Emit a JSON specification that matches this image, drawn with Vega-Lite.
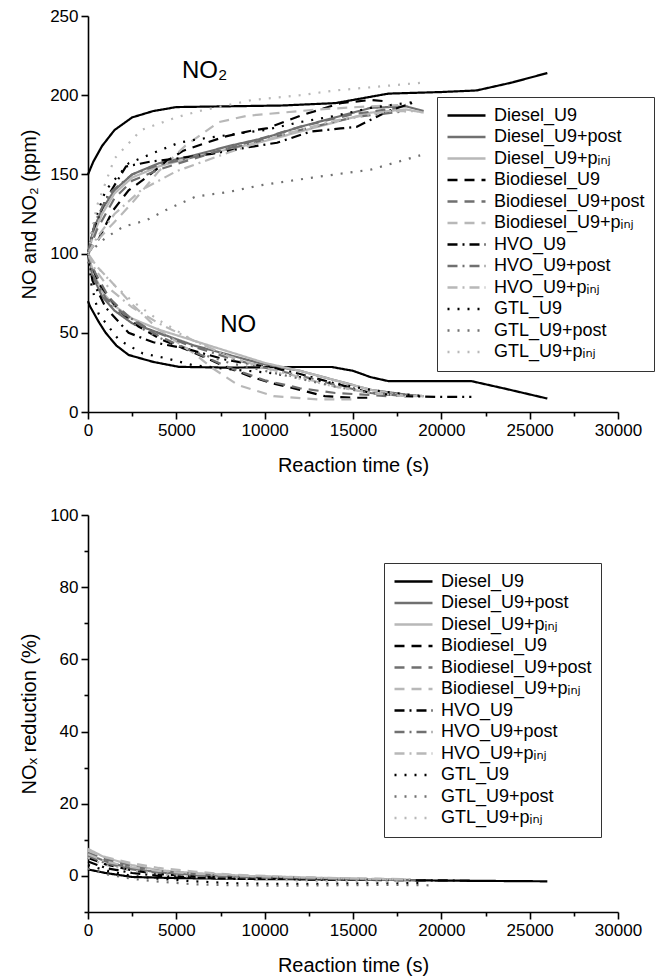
{
"$schema": "https://vega.github.io/schema/vega-lite/v6.json",
"padding": {"top": 7, "left": 19, "right": 5, "bottom": 5},
"background": "white",
"spacing": 31,
"resolve": {"scale": {"color": "independent", "strokeDash": "independent"}},
"datasets": {
"no": [
{"s":"Diesel_U9","g":"NO2","t":0,"v":150},{"s":"Diesel_U9","g":"NO2","t":300,"v":158},{"s":"Diesel_U9","g":"NO2","t":800,"v":168},{"s":"Diesel_U9","g":"NO2","t":1500,"v":178},{"s":"Diesel_U9","g":"NO2","t":2500,"v":186},{"s":"Diesel_U9","g":"NO2","t":3700,"v":190},{"s":"Diesel_U9","g":"NO2","t":5000,"v":192.5},{"s":"Diesel_U9","g":"NO2","t":8000,"v":193},{"s":"Diesel_U9","g":"NO2","t":11000,"v":193.5},{"s":"Diesel_U9","g":"NO2","t":14000,"v":195},{"s":"Diesel_U9","g":"NO2","t":15500,"v":198},{"s":"Diesel_U9","g":"NO2","t":17000,"v":201},{"s":"Diesel_U9","g":"NO2","t":20000,"v":202},{"s":"Diesel_U9","g":"NO2","t":22000,"v":203},{"s":"Diesel_U9","g":"NO2","t":24000,"v":208},{"s":"Diesel_U9","g":"NO2","t":26000,"v":214},
{"s":"Diesel_U9+post","g":"NO2","t":0,"v":100},{"s":"Diesel_U9+post","g":"NO2","t":300,"v":115},{"s":"Diesel_U9+post","g":"NO2","t":800,"v":128},{"s":"Diesel_U9+post","g":"NO2","t":1500,"v":140},{"s":"Diesel_U9+post","g":"NO2","t":2500,"v":150},{"s":"Diesel_U9+post","g":"NO2","t":4000,"v":157},{"s":"Diesel_U9+post","g":"NO2","t":6000,"v":162},{"s":"Diesel_U9+post","g":"NO2","t":8000,"v":168},{"s":"Diesel_U9+post","g":"NO2","t":10000,"v":173},{"s":"Diesel_U9+post","g":"NO2","t":12000,"v":180},{"s":"Diesel_U9+post","g":"NO2","t":14000,"v":186},{"s":"Diesel_U9+post","g":"NO2","t":16000,"v":192},{"s":"Diesel_U9+post","g":"NO2","t":18000,"v":193},{"s":"Diesel_U9+post","g":"NO2","t":19000,"v":190},
{"s":"Diesel_U9+pᵢₙⱼ","g":"NO2","t":0,"v":100},{"s":"Diesel_U9+pᵢₙⱼ","g":"NO2","t":300,"v":112},{"s":"Diesel_U9+pᵢₙⱼ","g":"NO2","t":800,"v":125},{"s":"Diesel_U9+pᵢₙⱼ","g":"NO2","t":1500,"v":138},{"s":"Diesel_U9+pᵢₙⱼ","g":"NO2","t":2500,"v":148},{"s":"Diesel_U9+pᵢₙⱼ","g":"NO2","t":4000,"v":155},{"s":"Diesel_U9+pᵢₙⱼ","g":"NO2","t":6000,"v":161},{"s":"Diesel_U9+pᵢₙⱼ","g":"NO2","t":8000,"v":166},{"s":"Diesel_U9+pᵢₙⱼ","g":"NO2","t":10000,"v":171},{"s":"Diesel_U9+pᵢₙⱼ","g":"NO2","t":12000,"v":177},{"s":"Diesel_U9+pᵢₙⱼ","g":"NO2","t":14000,"v":183},{"s":"Diesel_U9+pᵢₙⱼ","g":"NO2","t":16000,"v":189},{"s":"Diesel_U9+pᵢₙⱼ","g":"NO2","t":18000,"v":191},{"s":"Diesel_U9+pᵢₙⱼ","g":"NO2","t":19000,"v":189},
{"s":"Biodiesel_U9","g":"NO2","t":0,"v":100},{"s":"Biodiesel_U9","g":"NO2","t":300,"v":105},{"s":"Biodiesel_U9","g":"NO2","t":600,"v":109},{"s":"Biodiesel_U9","g":"NO2","t":1400,"v":127},{"s":"Biodiesel_U9","g":"NO2","t":2300,"v":140},{"s":"Biodiesel_U9","g":"NO2","t":3300,"v":148},{"s":"Biodiesel_U9","g":"NO2","t":4400,"v":158},{"s":"Biodiesel_U9","g":"NO2","t":5400,"v":165},{"s":"Biodiesel_U9","g":"NO2","t":6700,"v":170},{"s":"Biodiesel_U9","g":"NO2","t":7800,"v":174},{"s":"Biodiesel_U9","g":"NO2","t":9400,"v":178},{"s":"Biodiesel_U9","g":"NO2","t":10100,"v":179},{"s":"Biodiesel_U9","g":"NO2","t":12000,"v":187},{"s":"Biodiesel_U9","g":"NO2","t":14300,"v":195},{"s":"Biodiesel_U9","g":"NO2","t":16000,"v":197},{"s":"Biodiesel_U9","g":"NO2","t":17000,"v":196},
{"s":"Biodiesel_U9+post","g":"NO2","t":0,"v":100},{"s":"Biodiesel_U9+post","g":"NO2","t":500,"v":115},{"s":"Biodiesel_U9+post","g":"NO2","t":1500,"v":135},{"s":"Biodiesel_U9+post","g":"NO2","t":2500,"v":146},{"s":"Biodiesel_U9+post","g":"NO2","t":4000,"v":153},{"s":"Biodiesel_U9+post","g":"NO2","t":6000,"v":160},{"s":"Biodiesel_U9+post","g":"NO2","t":9000,"v":170},{"s":"Biodiesel_U9+post","g":"NO2","t":12000,"v":180},{"s":"Biodiesel_U9+post","g":"NO2","t":15000,"v":188},{"s":"Biodiesel_U9+post","g":"NO2","t":17500,"v":192},
{"s":"Biodiesel_U9+pᵢₙⱼ","g":"NO2","t":0,"v":100},{"s":"Biodiesel_U9+pᵢₙⱼ","g":"NO2","t":500,"v":108},{"s":"Biodiesel_U9+pᵢₙⱼ","g":"NO2","t":1500,"v":120},{"s":"Biodiesel_U9+pᵢₙⱼ","g":"NO2","t":2500,"v":132},{"s":"Biodiesel_U9+pᵢₙⱼ","g":"NO2","t":4000,"v":152},{"s":"Biodiesel_U9+pᵢₙⱼ","g":"NO2","t":5500,"v":168},{"s":"Biodiesel_U9+pᵢₙⱼ","g":"NO2","t":7400,"v":183},{"s":"Biodiesel_U9+pᵢₙⱼ","g":"NO2","t":9000,"v":187},{"s":"Biodiesel_U9+pᵢₙⱼ","g":"NO2","t":11000,"v":189},{"s":"Biodiesel_U9+pᵢₙⱼ","g":"NO2","t":13000,"v":191},{"s":"Biodiesel_U9+pᵢₙⱼ","g":"NO2","t":16000,"v":193},{"s":"Biodiesel_U9+pᵢₙⱼ","g":"NO2","t":18000,"v":194},
{"s":"HVO_U9","g":"NO2","t":0,"v":100},{"s":"HVO_U9","g":"NO2","t":300,"v":115},{"s":"HVO_U9","g":"NO2","t":1000,"v":134},{"s":"HVO_U9","g":"NO2","t":2150,"v":155},{"s":"HVO_U9","g":"NO2","t":3500,"v":158},{"s":"HVO_U9","g":"NO2","t":5000,"v":160},{"s":"HVO_U9","g":"NO2","t":7000,"v":163},{"s":"HVO_U9","g":"NO2","t":9000,"v":167},{"s":"HVO_U9","g":"NO2","t":10700,"v":170},{"s":"HVO_U9","g":"NO2","t":12600,"v":177},{"s":"HVO_U9","g":"NO2","t":14300,"v":179},{"s":"HVO_U9","g":"NO2","t":15200,"v":180},{"s":"HVO_U9","g":"NO2","t":17000,"v":190},{"s":"HVO_U9","g":"NO2","t":18600,"v":196},
{"s":"HVO_U9+post","g":"NO2","t":0,"v":100},{"s":"HVO_U9+post","g":"NO2","t":400,"v":120},{"s":"HVO_U9+post","g":"NO2","t":1200,"v":138},{"s":"HVO_U9+post","g":"NO2","t":2500,"v":150},{"s":"HVO_U9+post","g":"NO2","t":4000,"v":156},{"s":"HVO_U9+post","g":"NO2","t":6000,"v":161},{"s":"HVO_U9+post","g":"NO2","t":9000,"v":169},{"s":"HVO_U9+post","g":"NO2","t":12000,"v":178},{"s":"HVO_U9+post","g":"NO2","t":15000,"v":186},{"s":"HVO_U9+post","g":"NO2","t":18000,"v":190},
{"s":"HVO_U9+pᵢₙⱼ","g":"NO2","t":0,"v":100},{"s":"HVO_U9+pᵢₙⱼ","g":"NO2","t":500,"v":110},{"s":"HVO_U9+pᵢₙⱼ","g":"NO2","t":1500,"v":125},{"s":"HVO_U9+pᵢₙⱼ","g":"NO2","t":3000,"v":140},{"s":"HVO_U9+pᵢₙⱼ","g":"NO2","t":5000,"v":152},{"s":"HVO_U9+pᵢₙⱼ","g":"NO2","t":8000,"v":164},{"s":"HVO_U9+pᵢₙⱼ","g":"NO2","t":11000,"v":175},{"s":"HVO_U9+pᵢₙⱼ","g":"NO2","t":14000,"v":184},{"s":"HVO_U9+pᵢₙⱼ","g":"NO2","t":17000,"v":190},{"s":"HVO_U9+pᵢₙⱼ","g":"NO2","t":18500,"v":190},
{"s":"GTL_U9","g":"NO2","t":0,"v":100},{"s":"GTL_U9","g":"NO2","t":300,"v":118},{"s":"GTL_U9","g":"NO2","t":1000,"v":140},{"s":"GTL_U9","g":"NO2","t":2300,"v":157},{"s":"GTL_U9","g":"NO2","t":3700,"v":163.5},{"s":"GTL_U9","g":"NO2","t":5150,"v":170},{"s":"GTL_U9","g":"NO2","t":6100,"v":172},{"s":"GTL_U9","g":"NO2","t":8000,"v":175},{"s":"GTL_U9","g":"NO2","t":10000,"v":178},{"s":"GTL_U9","g":"NO2","t":12000,"v":183},{"s":"GTL_U9","g":"NO2","t":14000,"v":187},{"s":"GTL_U9","g":"NO2","t":16000,"v":192},{"s":"GTL_U9","g":"NO2","t":18600,"v":196},
{"s":"GTL_U9+post","g":"NO2","t":0,"v":100},{"s":"GTL_U9+post","g":"NO2","t":500,"v":105},{"s":"GTL_U9+post","g":"NO2","t":1000,"v":110},{"s":"GTL_U9+post","g":"NO2","t":2000,"v":117},{"s":"GTL_U9+post","g":"NO2","t":3300,"v":121},{"s":"GTL_U9+post","g":"NO2","t":4500,"v":128},{"s":"GTL_U9+post","g":"NO2","t":6100,"v":136},{"s":"GTL_U9+post","g":"NO2","t":8000,"v":139},{"s":"GTL_U9+post","g":"NO2","t":9700,"v":143},{"s":"GTL_U9+post","g":"NO2","t":12700,"v":148},{"s":"GTL_U9+post","g":"NO2","t":16000,"v":153},{"s":"GTL_U9+post","g":"NO2","t":18800,"v":162},
{"s":"GTL_U9+pᵢₙⱼ","g":"NO2","t":0,"v":100},{"s":"GTL_U9+pᵢₙⱼ","g":"NO2","t":500,"v":130},{"s":"GTL_U9+pᵢₙⱼ","g":"NO2","t":1500,"v":160},{"s":"GTL_U9+pᵢₙⱼ","g":"NO2","t":3000,"v":178},{"s":"GTL_U9+pᵢₙⱼ","g":"NO2","t":5000,"v":186},{"s":"GTL_U9+pᵢₙⱼ","g":"NO2","t":6300,"v":190},{"s":"GTL_U9+pᵢₙⱼ","g":"NO2","t":9300,"v":197},{"s":"GTL_U9+pᵢₙⱼ","g":"NO2","t":12000,"v":200},{"s":"GTL_U9+pᵢₙⱼ","g":"NO2","t":14000,"v":203},{"s":"GTL_U9+pᵢₙⱼ","g":"NO2","t":17000,"v":206},{"s":"GTL_U9+pᵢₙⱼ","g":"NO2","t":19000,"v":208},
{"s":"Diesel_U9","g":"NO","t":0,"v":70},{"s":"Diesel_U9","g":"NO","t":100,"v":67},{"s":"Diesel_U9","g":"NO","t":600,"v":57},{"s":"Diesel_U9","g":"NO","t":1000,"v":50},{"s":"Diesel_U9","g":"NO","t":1600,"v":42},{"s":"Diesel_U9","g":"NO","t":2300,"v":36},{"s":"Diesel_U9","g":"NO","t":3700,"v":31.6},{"s":"Diesel_U9","g":"NO","t":5150,"v":28.5},{"s":"Diesel_U9","g":"NO","t":8000,"v":28},{"s":"Diesel_U9","g":"NO","t":11000,"v":28.4},{"s":"Diesel_U9","g":"NO","t":13800,"v":28.4},{"s":"Diesel_U9","g":"NO","t":15000,"v":26},{"s":"Diesel_U9","g":"NO","t":16000,"v":22},{"s":"Diesel_U9","g":"NO","t":17000,"v":19.5},{"s":"Diesel_U9","g":"NO","t":21700,"v":19.5},{"s":"Diesel_U9","g":"NO","t":23500,"v":15},{"s":"Diesel_U9","g":"NO","t":26000,"v":8.5},
{"s":"Diesel_U9+post","g":"NO","t":0,"v":100},{"s":"Diesel_U9+post","g":"NO","t":300,"v":85},{"s":"Diesel_U9+post","g":"NO","t":800,"v":73},{"s":"Diesel_U9+post","g":"NO","t":1500,"v":64},{"s":"Diesel_U9+post","g":"NO","t":2500,"v":56},{"s":"Diesel_U9+post","g":"NO","t":4000,"v":50},{"s":"Diesel_U9+post","g":"NO","t":6000,"v":42},{"s":"Diesel_U9+post","g":"NO","t":8000,"v":36},{"s":"Diesel_U9+post","g":"NO","t":10000,"v":30},{"s":"Diesel_U9+post","g":"NO","t":12000,"v":26},{"s":"Diesel_U9+post","g":"NO","t":14000,"v":20},{"s":"Diesel_U9+post","g":"NO","t":16000,"v":14},{"s":"Diesel_U9+post","g":"NO","t":18000,"v":11},{"s":"Diesel_U9+post","g":"NO","t":19000,"v":10},
{"s":"Diesel_U9+pᵢₙⱼ","g":"NO","t":0,"v":100},{"s":"Diesel_U9+pᵢₙⱼ","g":"NO","t":300,"v":88},{"s":"Diesel_U9+pᵢₙⱼ","g":"NO","t":800,"v":76},{"s":"Diesel_U9+pᵢₙⱼ","g":"NO","t":1500,"v":67},{"s":"Diesel_U9+pᵢₙⱼ","g":"NO","t":2500,"v":59},{"s":"Diesel_U9+pᵢₙⱼ","g":"NO","t":4000,"v":52},{"s":"Diesel_U9+pᵢₙⱼ","g":"NO","t":6000,"v":45},{"s":"Diesel_U9+pᵢₙⱼ","g":"NO","t":8000,"v":38},{"s":"Diesel_U9+pᵢₙⱼ","g":"NO","t":10000,"v":31},{"s":"Diesel_U9+pᵢₙⱼ","g":"NO","t":12000,"v":26},{"s":"Diesel_U9+pᵢₙⱼ","g":"NO","t":14000,"v":20},{"s":"Diesel_U9+pᵢₙⱼ","g":"NO","t":16000,"v":14},{"s":"Diesel_U9+pᵢₙⱼ","g":"NO","t":18000,"v":10},{"s":"Diesel_U9+pᵢₙⱼ","g":"NO","t":19000,"v":10},
{"s":"Biodiesel_U9","g":"NO","t":0,"v":100},{"s":"Biodiesel_U9","g":"NO","t":300,"v":90},{"s":"Biodiesel_U9","g":"NO","t":620,"v":81},{"s":"Biodiesel_U9","g":"NO","t":1750,"v":64},{"s":"Biodiesel_U9","g":"NO","t":2860,"v":54},{"s":"Biodiesel_U9","g":"NO","t":4200,"v":45.5},{"s":"Biodiesel_U9","g":"NO","t":5900,"v":38},{"s":"Biodiesel_U9","g":"NO","t":7900,"v":28},{"s":"Biodiesel_U9","g":"NO","t":9300,"v":22},{"s":"Biodiesel_U9","g":"NO","t":10500,"v":18},{"s":"Biodiesel_U9","g":"NO","t":12000,"v":14},{"s":"Biodiesel_U9","g":"NO","t":13400,"v":10},{"s":"Biodiesel_U9","g":"NO","t":15000,"v":9},{"s":"Biodiesel_U9","g":"NO","t":16000,"v":9},
{"s":"Biodiesel_U9+post","g":"NO","t":0,"v":100},{"s":"Biodiesel_U9+post","g":"NO","t":400,"v":88},{"s":"Biodiesel_U9+post","g":"NO","t":1200,"v":72},{"s":"Biodiesel_U9+post","g":"NO","t":2500,"v":58},{"s":"Biodiesel_U9+post","g":"NO","t":4000,"v":48},{"s":"Biodiesel_U9+post","g":"NO","t":6000,"v":38},{"s":"Biodiesel_U9+post","g":"NO","t":8000,"v":28},{"s":"Biodiesel_U9+post","g":"NO","t":10000,"v":20},{"s":"Biodiesel_U9+post","g":"NO","t":12000,"v":15},{"s":"Biodiesel_U9+post","g":"NO","t":14000,"v":12},{"s":"Biodiesel_U9+post","g":"NO","t":17000,"v":10},
{"s":"Biodiesel_U9+pᵢₙⱼ","g":"NO","t":0,"v":100},{"s":"Biodiesel_U9+pᵢₙⱼ","g":"NO","t":500,"v":92},{"s":"Biodiesel_U9+pᵢₙⱼ","g":"NO","t":1500,"v":80},{"s":"Biodiesel_U9+pᵢₙⱼ","g":"NO","t":2500,"v":68},{"s":"Biodiesel_U9+pᵢₙⱼ","g":"NO","t":4000,"v":52},{"s":"Biodiesel_U9+pᵢₙⱼ","g":"NO","t":6000,"v":37},{"s":"Biodiesel_U9+pᵢₙⱼ","g":"NO","t":7000,"v":28},{"s":"Biodiesel_U9+pᵢₙⱼ","g":"NO","t":8500,"v":17},{"s":"Biodiesel_U9+pᵢₙⱼ","g":"NO","t":10500,"v":10},{"s":"Biodiesel_U9+pᵢₙⱼ","g":"NO","t":13000,"v":8},{"s":"Biodiesel_U9+pᵢₙⱼ","g":"NO","t":15000,"v":8},
{"s":"HVO_U9","g":"NO","t":0,"v":100},{"s":"HVO_U9","g":"NO","t":250,"v":83},{"s":"HVO_U9","g":"NO","t":1000,"v":66},{"s":"HVO_U9","g":"NO","t":2300,"v":50},{"s":"HVO_U9","g":"NO","t":3700,"v":44},{"s":"HVO_U9","g":"NO","t":5550,"v":40},{"s":"HVO_U9","g":"NO","t":7800,"v":33},{"s":"HVO_U9","g":"NO","t":10450,"v":28},{"s":"HVO_U9","g":"NO","t":12000,"v":24},{"s":"HVO_U9","g":"NO","t":14000,"v":18},{"s":"HVO_U9","g":"NO","t":16000,"v":12},{"s":"HVO_U9","g":"NO","t":18000,"v":10},{"s":"HVO_U9","g":"NO","t":20000,"v":9.5},{"s":"HVO_U9","g":"NO","t":21700,"v":9.5},
{"s":"HVO_U9+post","g":"NO","t":0,"v":100},{"s":"HVO_U9+post","g":"NO","t":300,"v":86},{"s":"HVO_U9+post","g":"NO","t":1000,"v":72},{"s":"HVO_U9+post","g":"NO","t":2000,"v":62},{"s":"HVO_U9+post","g":"NO","t":3500,"v":52},{"s":"HVO_U9+post","g":"NO","t":5500,"v":43},{"s":"HVO_U9+post","g":"NO","t":8000,"v":34},{"s":"HVO_U9+post","g":"NO","t":10000,"v":28},{"s":"HVO_U9+post","g":"NO","t":12000,"v":23},{"s":"HVO_U9+post","g":"NO","t":14000,"v":17},{"s":"HVO_U9+post","g":"NO","t":16000,"v":12},{"s":"HVO_U9+post","g":"NO","t":18000,"v":10},
{"s":"HVO_U9+pᵢₙⱼ","g":"NO","t":0,"v":100},{"s":"HVO_U9+pᵢₙⱼ","g":"NO","t":400,"v":90},{"s":"HVO_U9+pᵢₙⱼ","g":"NO","t":1200,"v":78},{"s":"HVO_U9+pᵢₙⱼ","g":"NO","t":2500,"v":66},{"s":"HVO_U9+pᵢₙⱼ","g":"NO","t":4000,"v":56},{"s":"HVO_U9+pᵢₙⱼ","g":"NO","t":6000,"v":45},{"s":"HVO_U9+pᵢₙⱼ","g":"NO","t":8000,"v":35},{"s":"HVO_U9+pᵢₙⱼ","g":"NO","t":10000,"v":28},{"s":"HVO_U9+pᵢₙⱼ","g":"NO","t":12000,"v":22},{"s":"HVO_U9+pᵢₙⱼ","g":"NO","t":14000,"v":16},{"s":"HVO_U9+pᵢₙⱼ","g":"NO","t":16000,"v":12},{"s":"HVO_U9+pᵢₙⱼ","g":"NO","t":18000,"v":10},
{"s":"GTL_U9","g":"NO","t":0,"v":100},{"s":"GTL_U9","g":"NO","t":200,"v":80},{"s":"GTL_U9","g":"NO","t":600,"v":62},{"s":"GTL_U9","g":"NO","t":1750,"v":45.5},{"s":"GTL_U9","g":"NO","t":3100,"v":37},{"s":"GTL_U9","g":"NO","t":4400,"v":34},{"s":"GTL_U9","g":"NO","t":5900,"v":29.7},{"s":"GTL_U9","g":"NO","t":8000,"v":27},{"s":"GTL_U9","g":"NO","t":10000,"v":25},{"s":"GTL_U9","g":"NO","t":12000,"v":22},{"s":"GTL_U9","g":"NO","t":14000,"v":18},{"s":"GTL_U9","g":"NO","t":16000,"v":14},{"s":"GTL_U9","g":"NO","t":18000,"v":11},{"s":"GTL_U9","g":"NO","t":19000,"v":10},
{"s":"GTL_U9+post","g":"NO","t":0,"v":95},{"s":"GTL_U9+post","g":"NO","t":400,"v":82},{"s":"GTL_U9+post","g":"NO","t":1200,"v":68},{"s":"GTL_U9+post","g":"NO","t":2500,"v":56},{"s":"GTL_U9+post","g":"NO","t":4000,"v":47},{"s":"GTL_U9+post","g":"NO","t":6000,"v":38},{"s":"GTL_U9+post","g":"NO","t":8000,"v":31},{"s":"GTL_U9+post","g":"NO","t":10000,"v":26},{"s":"GTL_U9+post","g":"NO","t":12000,"v":21},{"s":"GTL_U9+post","g":"NO","t":14000,"v":16},{"s":"GTL_U9+post","g":"NO","t":16000,"v":12},{"s":"GTL_U9+post","g":"NO","t":18000,"v":11},
{"s":"GTL_U9+pᵢₙⱼ","g":"NO","t":0,"v":100},{"s":"GTL_U9+pᵢₙⱼ","g":"NO","t":300,"v":95},{"s":"GTL_U9+pᵢₙⱼ","g":"NO","t":800,"v":88},{"s":"GTL_U9+pᵢₙⱼ","g":"NO","t":1500,"v":80},{"s":"GTL_U9+pᵢₙⱼ","g":"NO","t":2500,"v":70},{"s":"GTL_U9+pᵢₙⱼ","g":"NO","t":4000,"v":58},{"s":"GTL_U9+pᵢₙⱼ","g":"NO","t":6000,"v":45},{"s":"GTL_U9+pᵢₙⱼ","g":"NO","t":8000,"v":35},{"s":"GTL_U9+pᵢₙⱼ","g":"NO","t":10000,"v":27},{"s":"GTL_U9+pᵢₙⱼ","g":"NO","t":12000,"v":21},{"s":"GTL_U9+pᵢₙⱼ","g":"NO","t":14000,"v":16},{"s":"GTL_U9+pᵢₙⱼ","g":"NO","t":16000,"v":12},{"s":"GTL_U9+pᵢₙⱼ","g":"NO","t":18000,"v":10}
],
"red": [
{"s":"Diesel_U9","t":0,"v":1.8},{"s":"Diesel_U9","t":1000,"v":0.8},{"s":"Diesel_U9","t":2500,"v":-0.3},{"s":"Diesel_U9","t":5000,"v":-0.6},{"s":"Diesel_U9","t":10000,"v":-0.9},{"s":"Diesel_U9","t":15000,"v":-1.0},{"s":"Diesel_U9","t":20000,"v":-1.3},{"s":"Diesel_U9","t":26000,"v":-1.5},
{"s":"Diesel_U9+post","t":0,"v":6},{"s":"Diesel_U9+post","t":1000,"v":4},{"s":"Diesel_U9+post","t":2500,"v":2},{"s":"Diesel_U9+post","t":4000,"v":1},{"s":"Diesel_U9+post","t":6000,"v":0.3},{"s":"Diesel_U9+post","t":9000,"v":-0.3},{"s":"Diesel_U9+post","t":12000,"v":-0.6},{"s":"Diesel_U9+post","t":15000,"v":-0.9},{"s":"Diesel_U9+post","t":18000,"v":-1.1},{"s":"Diesel_U9+post","t":19000,"v":-1.2},
{"s":"Diesel_U9+pᵢₙⱼ","t":0,"v":7.5},{"s":"Diesel_U9+pᵢₙⱼ","t":1000,"v":5},{"s":"Diesel_U9+pᵢₙⱼ","t":2500,"v":3},{"s":"Diesel_U9+pᵢₙⱼ","t":4000,"v":1.6},{"s":"Diesel_U9+pᵢₙⱼ","t":6000,"v":0.8},{"s":"Diesel_U9+pᵢₙⱼ","t":9000,"v":0},{"s":"Diesel_U9+pᵢₙⱼ","t":12000,"v":-0.4},{"s":"Diesel_U9+pᵢₙⱼ","t":15000,"v":-0.8},{"s":"Diesel_U9+pᵢₙⱼ","t":18000,"v":-1.0},
{"s":"Biodiesel_U9","t":0,"v":5},{"s":"Biodiesel_U9","t":1000,"v":3.2},{"s":"Biodiesel_U9","t":2500,"v":1.5},{"s":"Biodiesel_U9","t":4000,"v":0.5},{"s":"Biodiesel_U9","t":6000,"v":-0.2},{"s":"Biodiesel_U9","t":9000,"v":-0.6},{"s":"Biodiesel_U9","t":12000,"v":-0.8},{"s":"Biodiesel_U9","t":15000,"v":-1},{"s":"Biodiesel_U9","t":16000,"v":-1},
{"s":"Biodiesel_U9+post","t":0,"v":6.5},{"s":"Biodiesel_U9+post","t":1000,"v":4.5},{"s":"Biodiesel_U9+post","t":2500,"v":2.6},{"s":"Biodiesel_U9+post","t":4000,"v":1.4},{"s":"Biodiesel_U9+post","t":6000,"v":0.6},{"s":"Biodiesel_U9+post","t":9000,"v":-0.1},{"s":"Biodiesel_U9+post","t":12000,"v":-0.5},{"s":"Biodiesel_U9+post","t":15000,"v":-0.8},{"s":"Biodiesel_U9+post","t":17500,"v":-1},
{"s":"Biodiesel_U9+pᵢₙⱼ","t":0,"v":7},{"s":"Biodiesel_U9+pᵢₙⱼ","t":1000,"v":5.2},{"s":"Biodiesel_U9+pᵢₙⱼ","t":2500,"v":3.5},{"s":"Biodiesel_U9+pᵢₙⱼ","t":4000,"v":2.2},{"s":"Biodiesel_U9+pᵢₙⱼ","t":6000,"v":1.2},{"s":"Biodiesel_U9+pᵢₙⱼ","t":8000,"v":0.4},{"s":"Biodiesel_U9+pᵢₙⱼ","t":11000,"v":-0.2},{"s":"Biodiesel_U9+pᵢₙⱼ","t":14000,"v":-0.6},{"s":"Biodiesel_U9+pᵢₙⱼ","t":18000,"v":-0.9},
{"s":"HVO_U9","t":0,"v":4},{"s":"HVO_U9","t":1000,"v":2.2},{"s":"HVO_U9","t":2500,"v":0.8},{"s":"HVO_U9","t":4000,"v":0},{"s":"HVO_U9","t":6000,"v":-0.5},{"s":"HVO_U9","t":9000,"v":-0.8},{"s":"HVO_U9","t":11500,"v":-0.3},{"s":"HVO_U9","t":12000,"v":-1},{"s":"HVO_U9","t":15000,"v":-1.1},{"s":"HVO_U9","t":18000,"v":-1.2},{"s":"HVO_U9","t":21700,"v":-1.3},
{"s":"HVO_U9+post","t":0,"v":5.5},{"s":"HVO_U9+post","t":1000,"v":3.5},{"s":"HVO_U9+post","t":2500,"v":1.8},{"s":"HVO_U9+post","t":4000,"v":0.8},{"s":"HVO_U9+post","t":6000,"v":0.1},{"s":"HVO_U9+post","t":9000,"v":-0.4},{"s":"HVO_U9+post","t":12000,"v":-0.7},{"s":"HVO_U9+post","t":15000,"v":-1},{"s":"HVO_U9+post","t":18000,"v":-1.1},
{"s":"HVO_U9+pᵢₙⱼ","t":0,"v":6},{"s":"HVO_U9+pᵢₙⱼ","t":1000,"v":4},{"s":"HVO_U9+pᵢₙⱼ","t":2500,"v":2.4},{"s":"HVO_U9+pᵢₙⱼ","t":4000,"v":1.4},{"s":"HVO_U9+pᵢₙⱼ","t":6000,"v":0.6},{"s":"HVO_U9+pᵢₙⱼ","t":9000,"v":0},{"s":"HVO_U9+pᵢₙⱼ","t":12000,"v":-0.4},{"s":"HVO_U9+pᵢₙⱼ","t":15000,"v":-0.7},{"s":"HVO_U9+pᵢₙⱼ","t":18500,"v":-1},
{"s":"GTL_U9","t":0,"v":3},{"s":"GTL_U9","t":1000,"v":1.5},{"s":"GTL_U9","t":2500,"v":0},{"s":"GTL_U9","t":4000,"v":-0.8},{"s":"GTL_U9","t":6000,"v":-1.5},{"s":"GTL_U9","t":8000,"v":-2},{"s":"GTL_U9","t":10000,"v":-2.2},{"s":"GTL_U9","t":13000,"v":-2.2},{"s":"GTL_U9","t":16000,"v":-2.0},{"s":"GTL_U9","t":19000,"v":-2.0},
{"s":"GTL_U9+post","t":0,"v":2},{"s":"GTL_U9+post","t":1000,"v":0.5},{"s":"GTL_U9+post","t":2500,"v":-0.8},{"s":"GTL_U9+post","t":4000,"v":-1.6},{"s":"GTL_U9+post","t":6000,"v":-2.3},{"s":"GTL_U9+post","t":8000,"v":-2.6},{"s":"GTL_U9+post","t":11000,"v":-2.7},{"s":"GTL_U9+post","t":14000,"v":-2.6},{"s":"GTL_U9+post","t":17000,"v":-2.5},{"s":"GTL_U9+post","t":19300,"v":-2.6},
{"s":"GTL_U9+pᵢₙⱼ","t":0,"v":5},{"s":"GTL_U9+pᵢₙⱼ","t":1000,"v":3},{"s":"GTL_U9+pᵢₙⱼ","t":2500,"v":1.5},{"s":"GTL_U9+pᵢₙⱼ","t":4000,"v":0.5},{"s":"GTL_U9+pᵢₙⱼ","t":6000,"v":-0.3},{"s":"GTL_U9+pᵢₙⱼ","t":9000,"v":-0.9},{"s":"GTL_U9+pᵢₙⱼ","t":12000,"v":-1.3},{"s":"GTL_U9+pᵢₙⱼ","t":15000,"v":-1.5},{"s":"GTL_U9+pᵢₙⱼ","t":18000,"v":-1.6}
]
},
"vconcat": [
{
"width": 530, "height": 396,
"layer": [
{
"data": {"name": "no"},
"mark": {"type": "line", "strokeWidth": 2.2},
"encoding": {
"x": {"field": "t", "type": "quantitative", "scale": {"domain": [0, 30000], "nice": false},
 "axis": {"title": "Reaction time (s)", "values": [0,2500,5000,7500,10000,12500,15000,17500,20000,22500,25000,27500,30000], "format": "d",
  "labelExpr": "datum.value % 5000 === 0 ? datum.label : ''",
  "tickSize": {"condition": {"test": "datum.value % 5000 === 0", "value": 7}, "value": 4}}},
"y": {"field": "v", "type": "quantitative", "scale": {"domain": [0, 250], "nice": false},
 "axis": {"title": "NO and NO₂ (ppm)", "values": [0,25,50,75,100,125,150,175,200,225,250],
  "labelExpr": "datum.value % 50 === 0 ? datum.label : ''",
  "tickSize": {"condition": {"test": "datum.value % 50 === 0", "value": 7}, "value": 4}}},
"color": {"field": "s", "type": "nominal",
 "scale": {"domain": ["Diesel_U9","Diesel_U9+post","Diesel_U9+pᵢₙⱼ","Biodiesel_U9","Biodiesel_U9+post","Biodiesel_U9+pᵢₙⱼ","HVO_U9","HVO_U9+post","HVO_U9+pᵢₙⱼ","GTL_U9","GTL_U9+post","GTL_U9+pᵢₙⱼ"],
  "range": ["#000000","#707070","#b8b8b8","#000000","#707070","#b8b8b8","#000000","#707070","#b8b8b8","#000000","#707070","#b8b8b8"]},
 "legend": {"orient": "none", "legendX": 349, "legendY": 81}},
"strokeDash": {"field": "s", "type": "nominal",
 "scale": {"domain": ["Diesel_U9","Diesel_U9+post","Diesel_U9+pᵢₙⱼ","Biodiesel_U9","Biodiesel_U9+post","Biodiesel_U9+pᵢₙⱼ","HVO_U9","HVO_U9+post","HVO_U9+pᵢₙⱼ","GTL_U9","GTL_U9+post","GTL_U9+pᵢₙⱼ"],
  "range": [[1,0],[1,0],[1,0],[10,7],[10,7],[10,7],[10,5,2,5],[10,5,2,5],[10,5,2,5],[2,8],[2,8],[2,8]]},
 "legend": {"orient": "none", "legendX": 349, "legendY": 81}},
"detail": {"field": "g"}
}
},
{"data": {"values": [{}]}, "mark": {"type": "text", "text": "NO₂", "fontSize": 24, "font": "Liberation Sans", "color": "#000"},
 "encoding": {"x": {"datum": 6600, "type": "quantitative"}, "y": {"datum": 215, "type": "quantitative"}}},
{"data": {"values": [{}]}, "mark": {"type": "text", "text": "NO", "fontSize": 24, "font": "Liberation Sans", "color": "#000"},
 "encoding": {"x": {"datum": 8500, "type": "quantitative"}, "y": {"datum": 55, "type": "quantitative"}}}
]
},
{
"width": 530, "height": 397,
"data": {"name": "red"},
"mark": {"type": "line", "strokeWidth": 2.2},
"encoding": {
"x": {"field": "t", "type": "quantitative", "scale": {"domain": [0, 30000], "nice": false},
 "axis": {"title": "Reaction time (s)", "values": [0,2500,5000,7500,10000,12500,15000,17500,20000,22500,25000,27500,30000], "format": "d",
  "labelExpr": "datum.value % 5000 === 0 ? datum.label : ''",
  "tickSize": {"condition": {"test": "datum.value % 5000 === 0", "value": 7}, "value": 4}}},
"y": {"field": "v", "type": "quantitative", "scale": {"domain": [-10, 100], "nice": false},
 "axis": {"title": "NOₓ reduction (%)", "values": [-10,0,10,20,30,40,50,60,70,80,90,100],
  "labelExpr": "datum.value % 20 === 0 ? datum.label : ''",
  "tickSize": {"condition": {"test": "datum.value % 20 === 0", "value": 7}, "value": 4}}},
"color": {"field": "s", "type": "nominal",
 "scale": {"domain": ["Diesel_U9","Diesel_U9+post","Diesel_U9+pᵢₙⱼ","Biodiesel_U9","Biodiesel_U9+post","Biodiesel_U9+pᵢₙⱼ","HVO_U9","HVO_U9+post","HVO_U9+pᵢₙⱼ","GTL_U9","GTL_U9+post","GTL_U9+pᵢₙⱼ"],
  "range": ["#000000","#707070","#b8b8b8","#000000","#707070","#b8b8b8","#000000","#707070","#b8b8b8","#000000","#707070","#b8b8b8"]},
 "legend": {"orient": "none", "legendX": 296, "legendY": 48}},
"strokeDash": {"field": "s", "type": "nominal",
 "scale": {"domain": ["Diesel_U9","Diesel_U9+post","Diesel_U9+pᵢₙⱼ","Biodiesel_U9","Biodiesel_U9+post","Biodiesel_U9+pᵢₙⱼ","HVO_U9","HVO_U9+post","HVO_U9+pᵢₙⱼ","GTL_U9","GTL_U9+post","GTL_U9+pᵢₙⱼ"],
  "range": [[1,0],[1,0],[1,0],[10,7],[10,7],[10,7],[10,5,2,5],[10,5,2,5],[10,5,2,5],[2,8],[2,8],[2,8]]},
 "legend": {"orient": "none", "legendX": 296, "legendY": 48}}
}
}
],
"config": {
"view": {"stroke": null},
"font": "Liberation Sans, DejaVu Sans",
"axis": {"domainColor": "#000", "domainWidth": 1.6, "tickColor": "#000", "tickWidth": 1.6, "labelColor": "#000", "titleColor": "#000",
 "labelFont": "Liberation Sans, DejaVu Sans", "titleFont": "Liberation Sans, DejaVu Sans", "labelFontSize": 17, "titleFontSize": 20, "titleFontWeight": "normal",
 "grid": false, "labelOverlap": false, "labelFlush": false, "labelPadding": 3},
"axisX": {"titlePadding": 17},
"axisY": {"titlePadding": 10},
"legend": {"title": null, "strokeColor": "#333", "fillColor": "white", "padding": 9, "labelFont": "Liberation Sans, DejaVu Sans", "labelFontSize": 18, "labelColor": "#000",
 "symbolType": "stroke", "symbolSize": 1444, "symbolStrokeWidth": 2.5, "clipHeight": 19, "rowPadding": 2.5, "labelOffset": 7}
}
}
